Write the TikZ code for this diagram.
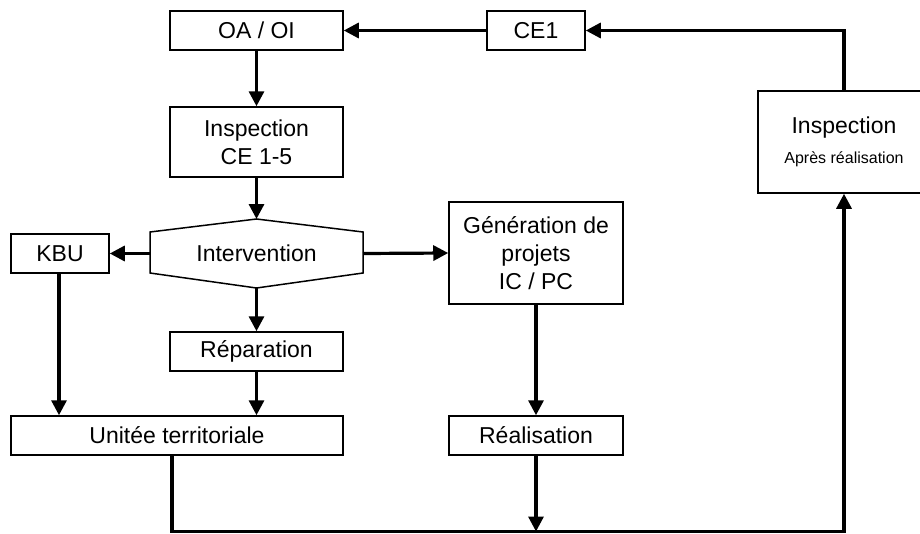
\documentclass[tikz,border=0pt]{standalone}
\usepackage{fontspec}
\setmainfont{Liberation Sans}
\usetikzlibrary{arrows.meta}
\begin{document}
\begin{tikzpicture}[x=1pt,y=-1pt,
  box/.style={draw=black,line width=1.5pt,rectangle,inner sep=0pt,align=center,font=\fontsize{23}{28}\selectfont},
  conn/.style={line width=3.2pt},
  arr/.style={conn,-{Triangle[length=15pt,width=15pt]}}]
\useasboundingbox (0,0) rectangle (920,533);
\clip (0,0) rectangle (920,533);
\fill[white] (0,0) rectangle (920,533);

\node[box,minimum width=173pt,minimum height=39pt] (oa) at (256.5,30.5) {OA / OI};
\node[box,minimum width=173pt,minimum height=70pt] (insp) at (256.5,142) {Inspection\\CE 1-5};
\node[box,minimum width=98pt,minimum height=39pt] (ce1) at (536,30.5) {CE1};
\node[box,minimum width=98pt,minimum height=39pt] (kbu) at (60,253.5) {KBU};
\node[box,minimum width=174pt,minimum height=102pt] (gen) at (536,253) {Génération de\\projets\\IC / PC};
\node[box,minimum width=173pt,minimum height=39pt] (rep) at (256.5,351.5) {Réparation};
\node[box,minimum width=332pt,minimum height=39pt] (unit) at (177,435.5) {Unitée territoriale};
\node[box,minimum width=174pt,minimum height=39pt] (real) at (536,435.5) {Réalisation};
\node[box,minimum width=172pt,minimum height=102pt] (inspa) at (844,142) {Inspection\\[2pt]{\fontsize{16}{18}\selectfont Après réalisation}};

% Intervention hexagon
\node[inner sep=0pt,font=\fontsize{23}{28}\selectfont] (interv) at (256.5,253.5) {Intervention};
\coordinate (ivtop) at (256.5,219);
\coordinate (ivbot) at (256.5,288);
\coordinate (ivleft) at (150,253.5);
\coordinate (ivright) at (363,253.5);
\draw[line width=1.5pt,line join=miter] (ivtop) -- (363,232) -- (363,273) -- (ivbot) -- (150,273) -- (150,232) -- cycle;

% connectors
\draw[arr] (oa.south) -- (insp.north);
\draw[arr] (insp.south) -- (ivtop);
\draw[arr] (ivleft) -- (kbu.east);
\draw[arr] (ivright) -- (gen.west);
\draw[arr] (ivbot) -- (rep.north);
\draw[arr] (rep.south) -- (rep.south |- unit.north);
\draw[arr] (kbu.south -| 59,0) -- (59,0 |- unit.north);
\draw[arr] (gen.south) -- (real.north);
\coordinate (bl) at (172,531.5);
\coordinate (br) at (844,531.5);
\draw[arr] (real.south) -- (real.south |- bl);
\draw[arr] (unit.south -| bl) -- (bl) -- (br) -- (inspa.south);
\coordinate (tr) at (844,30.5);
\draw[arr] (inspa.north) -- (tr) -- (ce1.east);
\draw[arr] (ce1.west) -- (oa.east);
\end{tikzpicture}
\end{document}
